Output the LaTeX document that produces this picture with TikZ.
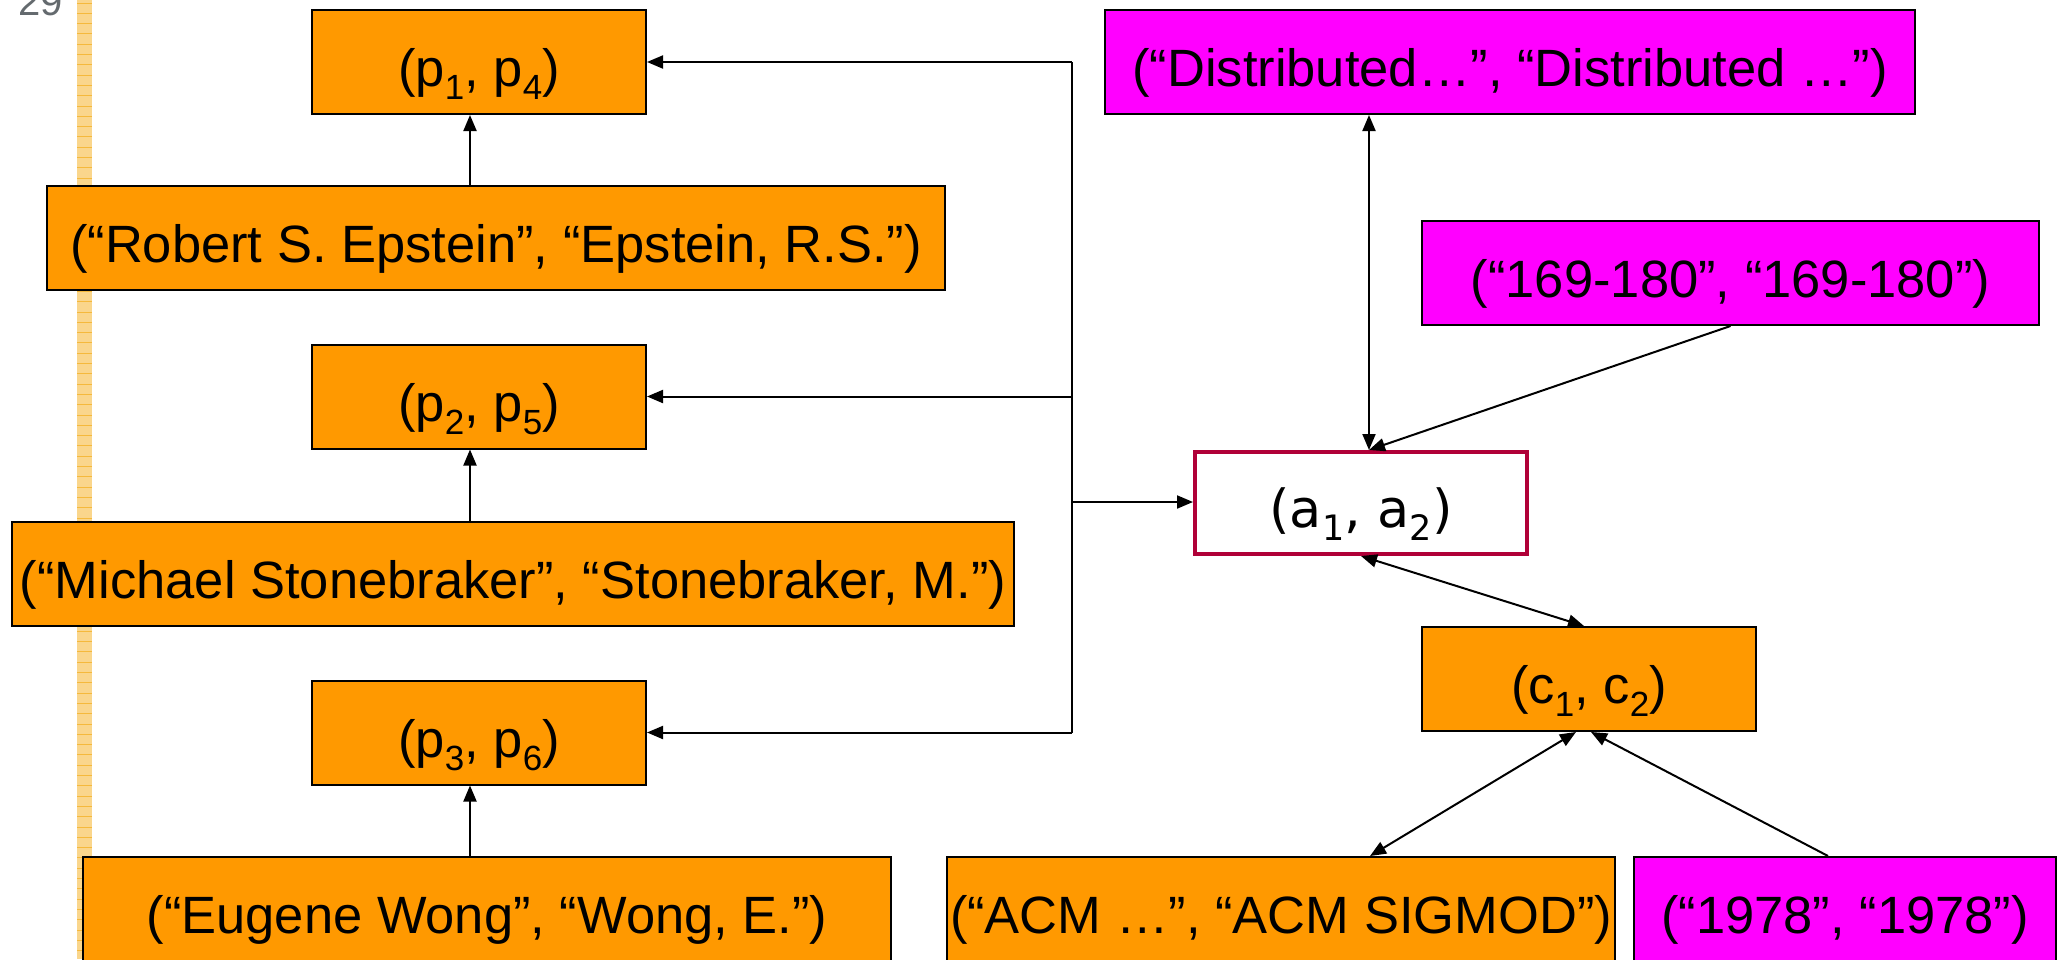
\documentclass[tikz,border=0pt]{standalone}
\usepackage{fontspec}
\setmainfont{Liberation Sans}
\newfontfamily\keyfont{DejaVu Sans}
\usetikzlibrary{arrows.meta}
\definecolor{boxorange}{RGB}{255,153,0}
\definecolor{boxmagenta}{RGB}{255,0,255}
\definecolor{keyred}{RGB}{176,0,56}
\definecolor{stripfill}{RGB}{250,214,140}
\definecolor{stripline}{RGB}{245,185,60}
\definecolor{pagenum}{RGB}{100,106,110}
% lowered, smaller index after a letter
\newcommand\sbs[1]{\raisebox{-0.25em}{\fontsize{35}{40}\selectfont #1}}
\newcommand\bigtext{\fontsize{52.5}{62}\selectfont}

\begin{document}
\begin{tikzpicture}[x=1pt,y=-1pt,
  >={Triangle[length=16pt,width=13pt]},
  box/.style={draw=black, line width=2pt, fill=boxorange, minimum height=104pt,
              inner sep=0pt, text height=52pt, text depth=3pt, font=\bigtext},
  mbox/.style={box, fill=boxmagenta},
  link/.style={line width=2pt},
  arr/.style={link, ->},
  darr/.style={link, <->}]
\useasboundingbox (0,0) rectangle (2065,959);

% slide margin strip
\fill[stripfill] (77,0) rectangle (92,959);
\foreach \k in {0,...,93}
  \draw[stripline, line width=1pt] (77,{3+\k*10.3}) -- (92,{3+\k*10.3});
\node[text=pagenum, font=\fontsize{40}{44}\selectfont, anchor=base] (pnum) at (41,15) {29};

% person pairs
\node[box, minimum width=334pt] (p14) at (479,62) {(p\sbs{1}, p\sbs{4})};
\node[box, minimum width=898pt] (rob) at (496,238) {(“Robert S. Epstein”, “Epstein, R.S.”)};
\node[box, minimum width=334pt] (p25) at (479,396.5) {(p\sbs{2}, p\sbs{5})};
\node[box, minimum width=1002pt] (mic) at (513,573.5) {(“Michael Stonebraker”, “Stonebraker, M.”)};
\node[box, minimum width=334pt] (p36) at (479,732.5) {(p\sbs{3}, p\sbs{6})};
\node[box, minimum width=808pt] (eug) at (487,909) {(“Eugene Wong”, “Wong, E.”)};

% article and venue pairs
\node[mbox, minimum width=810pt] (dist) at (1510,62) {(“Distributed…”, “Distributed …”)};
\node[mbox, minimum width=617pt] (pg) at (1730.5,273) {(“169-180”, “169-180”)};
\node[draw=keyred, line width=4pt, fill=white, minimum width=332pt, minimum height=102pt,
      inner sep=0pt, text height=52pt, text depth=3pt, font=\bigtext\keyfont]
      (a12) at (1361,503) {(a\sbs{1}, a\sbs{2})};
\node[box, minimum width=334pt] (c12) at (1589,679) {(c\sbs{1}, c\sbs{2})};
\node[box, minimum width=668pt] (acm) at (1281,909) {(“ACM …”, “ACM SIGMOD”)};
\node[mbox, minimum width=422pt] (yr) at (1845,909) {(“1978”, “1978”)};

% author bus
\coordinate (bus) at (1072,502);
\draw[link] (p14.east -| bus) -- (p36.east -| bus);
\draw[arr] (p14.east -| bus) -- (p14.east);
\draw[arr] (p25.east -| bus) -- (p25.east);
\draw[arr] (p36.east -| bus) -- (p36.east);
\draw[arr] (bus) -- (bus -| a12.west);

% names to person pairs
\coordinate (v1) at ([xshift=-9pt]p14.south);
\coordinate (v2) at ([xshift=-9pt]p25.south);
\coordinate (v3) at ([xshift=-9pt]p36.south);
\draw[arr] (v1 |- rob.north) -- (v1);
\draw[arr] (v2 |- mic.north) -- (v2);
\draw[arr] (v3 |- eug.north) -- (v3);

% article links
\coordinate (atop) at ([xshift=8pt]a12.north);
\draw[darr] (atop |- dist.south) -- (atop);
\draw[arr] (pg.south) -- (atop);
\draw[darr] (a12.south) -- ([xshift=-5pt]c12.north);
\draw[darr] ([xshift=89pt]acm.north) -- ([xshift=-13pt]c12.south);
\draw[arr] ([xshift=-17pt]yr.north) -- ([xshift=2pt]c12.south);
\end{tikzpicture}
\end{document}
